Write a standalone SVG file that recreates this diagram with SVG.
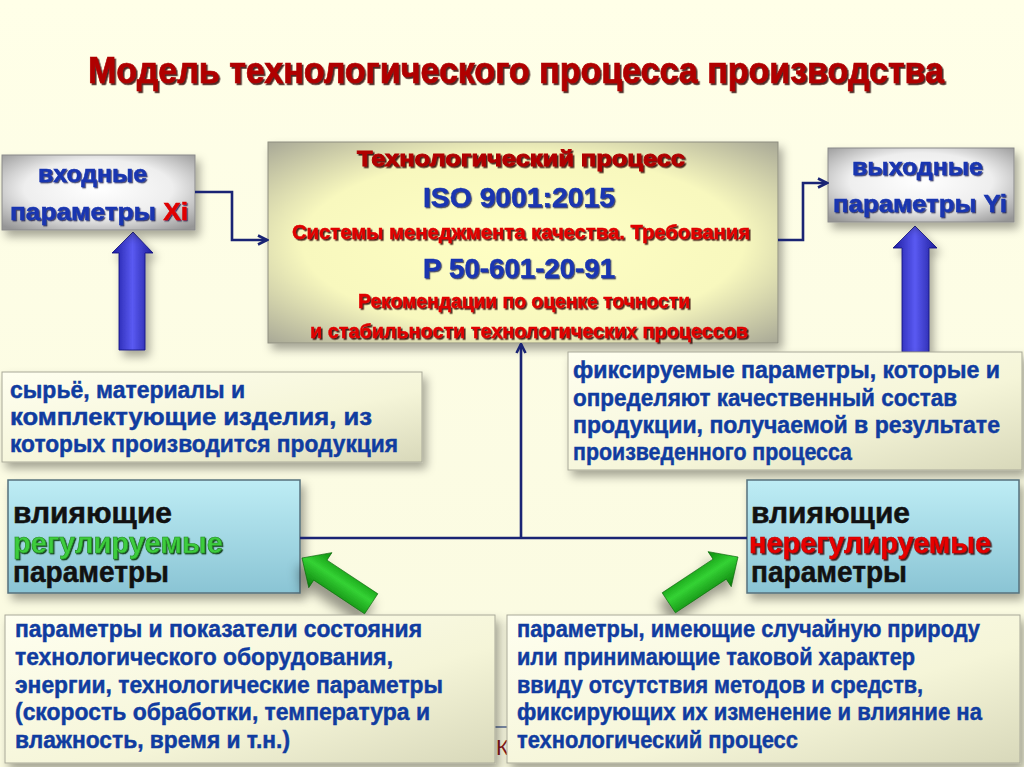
<svg xmlns="http://www.w3.org/2000/svg" width="1024" height="767" viewBox="0 0 1024 767">
<defs>
<style>
text{font-family:"Liberation Sans",Arial,sans-serif;font-weight:bold}
.body{font-size:23px;fill:#103CA0;stroke:#103CA0;stroke-width:0.45}
.cy{font-size:29px;fill:#111;stroke:#111;stroke-width:0.5}
.cyg{font-size:29px;fill:#3CCC3C;stroke:#248A24;stroke-width:0.6}
.cyr{font-size:29px;fill:#E80000;stroke:#C00000;stroke-width:0.6}
.red{fill:#E00000;stroke:#E00000;stroke-width:0.4}
.blu{fill:#1A36B0;stroke:#1A36B0;stroke-width:0.5}
.conn{fill:none;stroke:#1A2474;stroke-width:2.6}
</style>
<linearGradient id="bg" x1="0" y1="0" x2="0" y2="1"><stop offset="0" stop-color="#FFFFE8"/><stop offset="1" stop-color="#FAFAE0"/></linearGradient>
<radialGradient id="silver" cx="0.5" cy="0.45" r="0.7"><stop offset="0" stop-color="#FFFFFF"/><stop offset="0.55" stop-color="#EEEEEE"/><stop offset="1" stop-color="#969696"/></radialGradient>
<radialGradient id="yel" cx="0.5" cy="0.5" r="0.72"><stop offset="0" stop-color="#FFFFC4"/><stop offset="0.6" stop-color="#F8F8BE"/><stop offset="1" stop-color="#A4A494"/></radialGradient>
<linearGradient id="cream" x1="0" y1="0" x2="1" y2="1"><stop offset="0" stop-color="#FFFFF0"/><stop offset="0.6" stop-color="#F5F5D8"/><stop offset="1" stop-color="#D8D8BA"/></linearGradient>
<linearGradient id="cyan" x1="0" y1="0" x2="0" y2="1"><stop offset="0" stop-color="#BEEDF5"/><stop offset="1" stop-color="#8AC4D4"/></linearGradient>
<linearGradient id="blueA" x1="0" y1="0" x2="1" y2="0"><stop offset="0" stop-color="#1C1CA0"/><stop offset="0.5" stop-color="#5A5AF2"/><stop offset="1" stop-color="#1C1C9A"/></linearGradient>
<linearGradient id="greenA" x1="0" y1="0" x2="0" y2="1"><stop offset="0" stop-color="#0C8C0C"/><stop offset="0.45" stop-color="#34D234"/><stop offset="1" stop-color="#0A7A0A"/></linearGradient>
<filter id="sh" x="-10%" y="-10%" width="125%" height="135%"><feDropShadow dx="4" dy="6" stdDeviation="5" flood-color="#000" flood-opacity="0.35"/></filter>
<filter id="shg" x="-40%" y="-40%" width="180%" height="180%"><feDropShadow dx="-4" dy="10" stdDeviation="6" flood-color="#000" flood-opacity="0.4"/></filter>
<filter id="ts" x="-10%" y="-50%" width="120%" height="200%"><feDropShadow dx="1.6" dy="1.6" stdDeviation="0.5" flood-color="#2A0000" flood-opacity="0.85"/></filter>
<filter id="tsg" x="-10%" y="-50%" width="120%" height="200%"><feDropShadow dx="1.2" dy="1.2" stdDeviation="0.5" flood-color="#002A00" flood-opacity="0.85"/></filter>
<filter id="tsb" x="-10%" y="-50%" width="120%" height="200%"><feDropShadow dx="1.2" dy="1.2" stdDeviation="0.6" flood-color="#000030" flood-opacity="0.7"/></filter>
<marker id="ah" viewBox="0 0 12 12" refX="10.5" refY="6" markerWidth="12" markerHeight="12" markerUnits="userSpaceOnUse" orient="auto"><path d="M1.5,1.5 L10.5,6 L1.5,10.5" fill="none" stroke="#1A2474" stroke-width="2.6"/></marker>
</defs>

<rect x="0" y="0" width="1024" height="767" fill="url(#bg)"/>

<g id="title" transform="translate(0,83) scale(1,1.15) translate(0,-83)">
<text x="88" y="83" font-size="32" textLength="856" lengthAdjust="spacingAndGlyphs" style="fill:#B00000;stroke:#B00000;stroke-width:0.6" filter="url(#ts)">Модель технологического процесса производства</text>
</g>

<g id="blue-arrows" filter="url(#sh)">
<polygon points="133,232 153,253 145,253 145,350 119,350 119,253 112,253" fill="url(#blueA)" stroke="#10107A" stroke-width="0.8"/>
<polygon points="915,226 937,248 929,248 929,352 902,352 902,248 893,248" fill="url(#blueA)" stroke="#10107A" stroke-width="0.8"/>
</g>

<g id="node-input">
<rect x="2" y="155" width="193" height="75" fill="url(#silver)" stroke="#8A8A8A" stroke-width="1" filter="url(#sh)"/>
<text class="blu" x="38" y="182" font-size="23" textLength="109" lengthAdjust="spacingAndGlyphs" filter="url(#tsb)">входные</text>
<text class="blu" x="10" y="220" font-size="23" textLength="178" lengthAdjust="spacingAndGlyphs" filter="url(#tsb)">параметры <tspan style="fill:#E00000;stroke:#E00000">Xi</tspan></text>
</g>

<g id="node-output">
<rect x="828" y="148" width="186" height="74" fill="url(#silver)" stroke="#8A8A8A" stroke-width="1" filter="url(#sh)"/>
<text class="blu" x="852" y="175" font-size="23" textLength="131" lengthAdjust="spacingAndGlyphs" filter="url(#tsb)">выходные</text>
<text class="blu" x="833" y="212" font-size="23" textLength="174" lengthAdjust="spacingAndGlyphs" filter="url(#tsb)">параметры Yi</text>
</g>

<g id="node-process">
<rect x="268" y="142" width="510" height="201" fill="url(#yel)" stroke="#8E8E80" stroke-width="1" filter="url(#sh)"/>
<text x="357" y="166" font-size="22" textLength="328" lengthAdjust="spacingAndGlyphs" style="fill:#B00000;stroke:#B00000;stroke-width:0.9" filter="url(#ts)">Технологический процесс</text>
<text class="blu" x="423" y="207" font-size="28" textLength="192" lengthAdjust="spacingAndGlyphs" filter="url(#tsb)">ISO 9001:2015</text>
<text class="red" x="292" y="239" font-size="19.5" textLength="458" lengthAdjust="spacingAndGlyphs" filter="url(#ts)">Системы менеджмента качества. Требования</text>
<text class="blu" x="423" y="278" font-size="28" textLength="192" lengthAdjust="spacingAndGlyphs" filter="url(#tsb)">Р 50-601-20-91</text>
<text class="red" x="358" y="308" font-size="19.5" textLength="332" lengthAdjust="spacingAndGlyphs" filter="url(#ts)">Рекомендации по оценке точности</text>
<text class="red" x="310" y="338" font-size="19.5" textLength="438" lengthAdjust="spacingAndGlyphs" filter="url(#ts)">и стабильности технологических процессов</text>
</g>

<g id="node-raw">
<rect x="2" y="372" width="420" height="90" fill="url(#cream)" stroke="#A8A898" stroke-width="1" filter="url(#sh)"/>
<text class="body" x="10" y="398" textLength="235" lengthAdjust="spacingAndGlyphs">сырьё, материалы и</text>
<text class="body" x="10" y="425" textLength="362" lengthAdjust="spacingAndGlyphs">комплектующие изделия, из</text>
<text class="body" x="10" y="452" textLength="388" lengthAdjust="spacingAndGlyphs">которых производится продукция</text>
</g>

<g id="node-fixed">
<rect x="568" y="352" width="454" height="118" fill="url(#cream)" stroke="#A8A898" stroke-width="1" filter="url(#sh)"/>
<text class="body" x="573" y="378" textLength="427" lengthAdjust="spacingAndGlyphs">фиксируемые параметры, которые и</text>
<text class="body" x="573" y="406" textLength="384" lengthAdjust="spacingAndGlyphs">определяют качественный состав</text>
<text class="body" x="573" y="433" textLength="427" lengthAdjust="spacingAndGlyphs">продукции, получаемой в результате</text>
<text class="body" x="573" y="460" textLength="279" lengthAdjust="spacingAndGlyphs">произведенного процесса</text>
</g>

<g id="node-controlled">
<rect x="8" y="480" width="292" height="113" fill="url(#cyan)" stroke="#56707C" stroke-width="1.5" filter="url(#sh)"/>
<text class="cy" x="13" y="523" textLength="159" lengthAdjust="spacingAndGlyphs">влияющие</text>
<text class="cyg" x="13" y="553" textLength="210" lengthAdjust="spacingAndGlyphs" filter="url(#tsg)">регулируемые</text>
<text class="cy" x="13" y="582" textLength="156" lengthAdjust="spacingAndGlyphs">параметры</text>
</g>

<g id="node-uncontrolled">
<rect x="747" y="480" width="272" height="113" fill="url(#cyan)" stroke="#56707C" stroke-width="1.5" filter="url(#sh)"/>
<text class="cy" x="751" y="523" textLength="159" lengthAdjust="spacingAndGlyphs">влияющие</text>
<text class="cyr" x="749" y="553" textLength="242" lengthAdjust="spacingAndGlyphs" filter="url(#ts)">нерегулируемые</text>
<text class="cy" x="751" y="582" textLength="156" lengthAdjust="spacingAndGlyphs">параметры</text>
</g>

<g id="green-arrows">
<g filter="url(#shg)"><polygon transform="translate(302,558) rotate(33.5)" points="0,0 22,-21 22,-12 83,-12 83,12 22,12 22,21" fill="url(#greenA)" stroke="#086008" stroke-width="0.6"/></g>
<g filter="url(#shg)"><polygon transform="translate(738,557) rotate(-33.5)" points="0,0 -22,-21 -22,-12 -83,-12 -83,12 -22,12 -22,21" fill="url(#greenA)" stroke="#086008" stroke-width="0.6"/></g>
</g>

<g id="fragment">
<line x1="494" y1="727" x2="512" y2="727" stroke="#7C8CA6" stroke-width="2"/>
<text x="496" y="755" font-size="22" style="fill:#8B1A1A;font-weight:normal">К</text>
</g>

<g id="node-controlled-desc">
<rect x="5" y="615" width="490" height="148" fill="url(#cream)" stroke="#A8A898" stroke-width="1" filter="url(#sh)"/>
<text class="body" x="15" y="637" textLength="407" lengthAdjust="spacingAndGlyphs">параметры и показатели состояния</text>
<text class="body" x="15" y="665" textLength="378" lengthAdjust="spacingAndGlyphs">технологического оборудования,</text>
<text class="body" x="15" y="693" textLength="428" lengthAdjust="spacingAndGlyphs">энергии, технологические параметры</text>
<text class="body" x="15" y="720" textLength="415" lengthAdjust="spacingAndGlyphs">(скорость обработки, температура и</text>
<text class="body" x="15" y="748" textLength="275" lengthAdjust="spacingAndGlyphs">влажность, время и т.н.)</text>
</g>

<g id="node-uncontrolled-desc">
<rect x="507" y="615" width="513" height="148" fill="url(#cream)" stroke="#A8A898" stroke-width="1" filter="url(#sh)"/>
<text class="body" x="517" y="637" textLength="463" lengthAdjust="spacingAndGlyphs">параметры, имеющие случайную природу</text>
<text class="body" x="517" y="665" textLength="398" lengthAdjust="spacingAndGlyphs">или принимающие таковой характер</text>
<text class="body" x="517" y="693" textLength="406" lengthAdjust="spacingAndGlyphs">ввиду отсутствия методов и средств,</text>
<text class="body" x="517" y="720" textLength="465" lengthAdjust="spacingAndGlyphs">фиксирующих их изменение и влияние на</text>
<text class="body" x="517" y="748" textLength="281" lengthAdjust="spacingAndGlyphs">технологический процесс</text>
</g>

<g id="connectors">
<path class="conn" d="M195,192 H232 V240 H267" marker-end="url(#ah)"/>
<path class="conn" d="M778,240 H803 V183 H827" marker-end="url(#ah)"/>
<path class="conn" d="M300,538 H747"/>
<path class="conn" d="M521,538 V344" marker-end="url(#ah)"/>
</g>
</svg>
